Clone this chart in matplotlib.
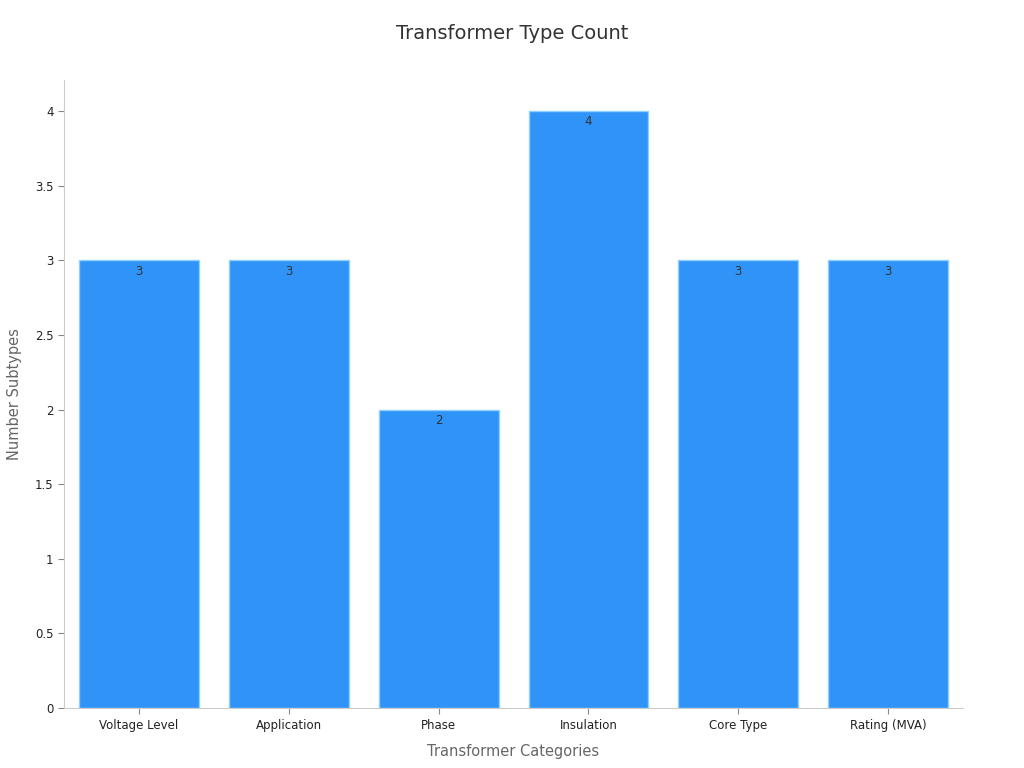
import matplotlib
matplotlib.use('Agg')
import matplotlib.pyplot as plt

plt.rcParams['font.family'] = ['DejaVu Sans']

# data
categories = ['Voltage Level', 'Application', 'Phase', 'Insulation', 'Core Type', 'Rating (MVA)']
counts = [3, 3, 2, 4, 3, 3]

fig = plt.figure(figsize=(10.24, 7.68), dpi=100)
ax = fig.add_axes([0.0625, 0.078, 0.878, 0.818])

bars = ax.bar(range(len(categories)), counts, width=0.8, color='#2f93f8',
              edgecolor='#8fd0ff', linewidth=1)

# value labels just inside the top of each bar
for x, v in enumerate(counts):
    ax.text(x, v - 0.028, str(v), ha='center', va='top', fontsize=8.5, color='#333333')

ax.set_xlim(-0.5, 5.5)
ax.set_ylim(0, 4.21)
ax.set_xticks(range(len(categories)))
ax.set_xticklabels(categories)
ax.set_yticks([0, 0.5, 1, 1.5, 2, 2.5, 3, 3.5, 4])
ax.set_yticklabels(['0', '0.5', '1', '1.5', '2', '2.5', '3', '3.5', '4'])

for side in ['top', 'right']:
    ax.spines[side].set_visible(False)
for side in ['left', 'bottom']:
    ax.spines[side].set_color('#cccccc')
ax.tick_params(axis='both', colors='#888888', labelcolor='#222222', labelsize=8.5, length=4)

ax.set_xlabel('Transformer Categories', fontsize=10.5, color='#666666', labelpad=9)
ax.set_ylabel('Number Subtypes', fontsize=10.5, color='#666666', labelpad=9)
fig.text(0.5, 0.957, 'Transformer Type Count', ha='center', va='center', fontsize=14, color='#333333')

fig.savefig('out.png', dpi=100)
